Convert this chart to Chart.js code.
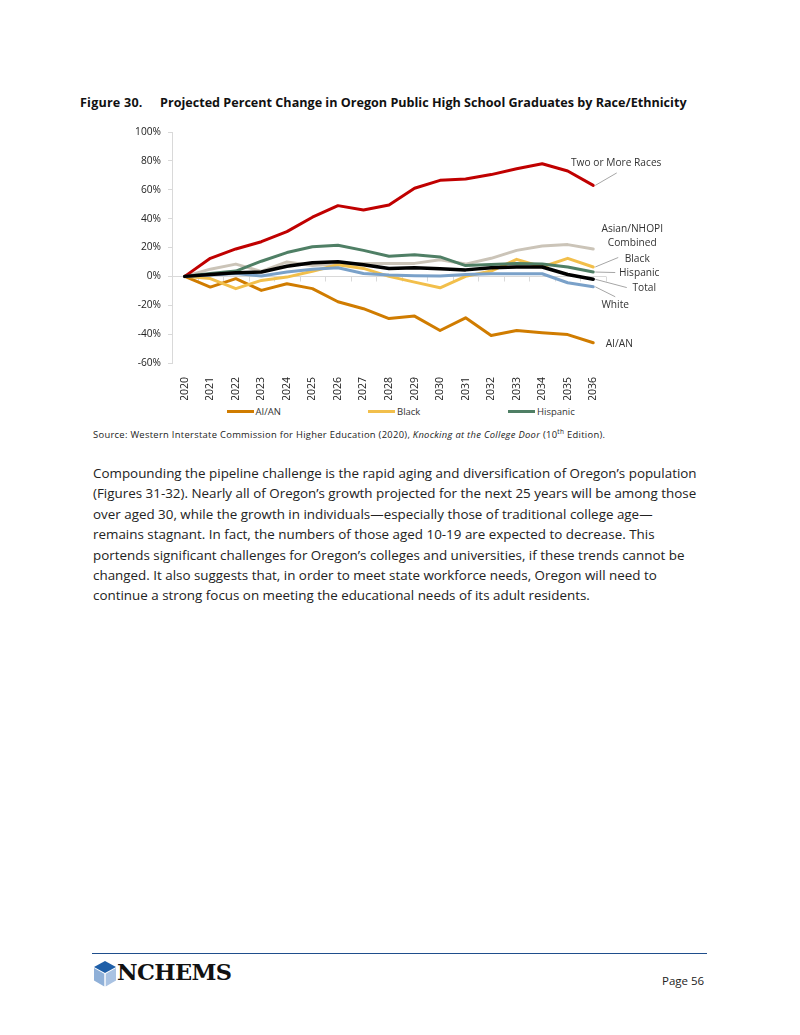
<!DOCTYPE html>
<html>
<head>
<meta charset="utf-8">
<script src="https://cdn.jsdelivr.net/npm/chart.js@4"></script>
<style>
  html,body{margin:0;padding:0;background:#fff;}
  body{width:800px;height:1035px;position:relative;overflow:hidden;font-family:"Open Sans","Noto Sans",sans-serif;color:#222;}
  .abs{position:absolute;white-space:nowrap;}
  #title{left:80px;top:94px;font-weight:bold;font-size:12.6px;color:#111;}
  #title .num{display:inline-block;width:80px;letter-spacing:0.2px;}
  #chartWrap{position:absolute;left:0;top:112px;width:800px;height:288px;}
  #legend{left:0;top:404px;width:800px;height:16px;font-size:9.5px;color:#333;}
  .lg{position:absolute;top:0;height:16px;line-height:16px;}
  .lg i{display:inline-block;width:27px;height:3px;vertical-align:middle;margin-right:2px;margin-top:-2px;}
  #source{left:93px;top:427px;font-size:9.4px;letter-spacing:0.3px;color:#222;}
  #source sup{font-size:6.5px;}
  #body{left:93px;top:463px;font-size:13.4px;line-height:20.4px;color:#222;}
  #rule{left:92px;top:953px;width:615px;height:0;border-top:1.3px solid #1f4e8c;}
  #logo{left:93px;top:960px;height:28px;}
  #logotext{left:117px;top:959px;font-family:"DejaVu Serif","Liberation Serif",serif;font-weight:bold;font-size:22.5px;letter-spacing:-0.6px;color:#111;}
  #page{left:662px;top:973px;font-size:11.5px;color:#222;}
</style>
</head>
<body>
<div id="title" class="abs"><span class="num">Figure 30.</span>Projected Percent Change in Oregon Public High School Graduates by Race/Ethnicity</div>
<div id="chartWrap"><canvas id="c" width="800" height="288"></canvas></div>
<div id="legend" class="abs"></div>
<div id="source" class="abs">Source: Western Interstate Commission for Higher Education (2020), <i>Knocking at the College Door</i> (10<sup>th</sup> Edition).</div>
<div id="body" class="abs">Compounding the pipeline challenge is the rapid aging and diversification of Oregon’s population<br>(Figures 31-32). Nearly all of Oregon’s growth projected for the next 25 years will be among those<br>over aged 30, while the growth in individuals—especially those of traditional college age—<br>remains stagnant. In fact, the numbers of those aged 10-19 are expected to decrease. This<br>portends significant challenges for Oregon’s colleges and universities, if these trends cannot be<br>changed. It also suggests that, in order to meet state workforce needs, Oregon will need to<br>continue a strong focus on meeting the educational needs of its adult residents.</div>
<div id="rule" class="abs"></div>
<svg id="logo" class="abs" width="24" height="28" viewBox="0 0 24 28">
  <polygon points="12,1 23,7 12,13 1,7" fill="#1f5fa8"/>
  <polygon points="1,8 11.3,13.8 11.3,26.5 1,20.5" fill="#8fb0d8"/>
  <polygon points="12.7,13.8 23,8 23,20.5 12.7,26.5" fill="#a9c2e2"/>
</svg>
<div id="logotext" class="abs">NCHEMS</div>
<div id="page" class="abs">Page 56</div>

<script>
const years = ["2020","2021","2022","2023","2024","2025","2026","2027","2028","2029","2030","2031","2032","2033","2034","2035","2036"];
const aian      = [0,-7.4,-1.6,-9.7,-5.1,-8.5,-17.6,-22.4,-29.2,-27.5,-37.5,-28.7,-41,-37.5,-39,-40.3,-46];
const black     = [0,-1.5,-8.5,-2.8,-0.5,3.5,8,5.5,0,-4,-7.9,0,3.7,11.8,6.5,12.5,6.5];
const hispanic  = [0,2,3.7,10.5,16.5,20.5,21.5,18,14,15,13.5,7.5,8.3,9,8.5,6.5,3];
const asian     = [0,5,8.5,3.5,10,7.5,8.5,9,9,9,11.5,8.5,12.5,18,21,22,19];
const twoOrMore = [0,12.5,19,24,31,41,49,46,49.5,61,66.5,67.5,70.5,74.5,78,73,63];
const white     = [0,1,2,0.2,3,5,6,2,1,0.5,0.3,1.3,1.8,1.8,1.8,-4.4,-7.2];
const total     = [0,1.3,2.5,3,7,9.5,10.2,8,5.5,6,5.3,4.5,6,6.5,6.5,1.3,-2];
const yTicks = [-60,-40,-20,0,20,40,60,80,100];

const FONT = '"Open Sans", "Noto Sans", sans-serif';

const series = [
  {label:"AI/AN", data:aian, color:"#d07c00", width:3, order:6, legend:true,
   tag:{lines:["AI/AN"], dx:26, dy:1}},
  {label:"Black", data:black, color:"#f2bf4b", width:3, order:4, legend:true,
   tag:{lines:["Black"], dx:44, dy:-8, leader:[25,-9.5]}},
  {label:"Hispanic", data:hispanic, color:"#4f7f65", width:3, order:3, legend:true,
   tag:{lines:["Hispanic"], dx:46, dy:1.5, leader:[22,0.5]}},
  {label:"Asian/NHOPI Combined", data:asian, color:"#cbc4b8", width:3, order:5, legend:false,
   tag:{lines:["Asian/NHOPI","Combined"], dx:39, dy:-20}},
  {label:"Two or More Races", data:twoOrMore, color:"#c00000", width:3, order:2, legend:false,
   tag:{lines:["Two or More Races"], dx:23, dy:-22, leader:[23.5,-12.5]}},
  {label:"White", data:white, color:"#7aa1c9", width:3, order:1, legend:false,
   tag:{lines:["White"], dx:22, dy:18.5, leader:[22,10]}},
  {label:"Total", data:total, color:"#000000", width:3.5, order:0, legend:false,
   tag:{lines:["Total"], dx:51, dy:8.5, leader:[33.5,8.3]}}
];

// HTML legend (only first three series shown, as in reference)
const legendEl = document.getElementById('legend');
const legendStarts = [226.5, 368, 508];
series.filter(s=>s.legend).forEach((s,i)=>{
  const d = document.createElement('div');
  d.className='lg'; d.style.left = legendStarts[i]+'px';
  d.innerHTML = '<i style="background:'+s.color+'"></i>'+s.label;
  legendEl.appendChild(d);
});

const zeroAxis = {
  id:'zeroAxis',
  beforeDatasetsDraw(chart){
    const {ctx, chartArea, scales:{x,y}} = chart;
    const y0 = Math.round(y.getPixelForValue(0))+0.5;
    ctx.save();
    ctx.strokeStyle='#d9d9d9'; ctx.lineWidth=1;
    ctx.beginPath();
    ctx.moveTo(chartArea.left, y0); ctx.lineTo(chartArea.right, y0);
    const half = (x.getPixelForValue(1)-x.getPixelForValue(0))/2;
    for(let i=0;i<years.length;i++){
      const px = Math.round(x.getPixelForValue(i)+half)+0.5;
      ctx.moveTo(px, y0); ctx.lineTo(px, y0+5);
    }
    ctx.stroke();
    ctx.restore();
  }
};

const endTags = {
  id:'endTags',
  afterDatasetsDraw(chart){
    const {ctx, scales:{x,y}} = chart;
    ctx.save();
    ctx.font = '10.2px ' + FONT;
    ctx.fillStyle = '#333';
    ctx.textAlign='center'; ctx.textBaseline='middle';
    series.forEach(s=>{
      const last = s.data.length-1;
      const ex = x.getPixelForValue(last), ey = y.getPixelForValue(s.data[last]);
      const t = s.tag;
      if(t.leader){
        ctx.strokeStyle='#a6a6a6'; ctx.lineWidth=1;
        ctx.beginPath(); ctx.moveTo(ex+2, ey); ctx.lineTo(ex+t.leader[0], ey+t.leader[1]); ctx.stroke();
      }
      t.lines.forEach((ln,k)=>{
        ctx.fillText(ln, ex+t.dx, ey+t.dy+k*14);
      });
    });
    ctx.restore();
  }
};

new Chart(document.getElementById('c'), {
  type:'line',
  data:{
    labels: years,
    datasets: series.map(s=>({
      label:s.label, data:s.data, borderColor:s.color, backgroundColor:s.color,
      borderWidth:s.width, pointRadius:0, tension:0, order:s.order,
      borderJoinStyle:'round', borderCapStyle:'round', fill:false
    }))
  },
  options:{
    responsive:false, animation:false, devicePixelRatio:1,
    layout:{padding:{left:0, right:194, top:20, bottom:0}},
    plugins:{legend:{display:false}, tooltip:{enabled:false}},
    scales:{
      x:{
        type:'category', offset:true,
        grid:{display:false},
        border:{display:false},
        ticks:{minRotation:90, maxRotation:90, padding:6, color:'#222',
               font:{family:FONT, size:10.5}},
        afterFit(sc){ sc.height = 37; }
      },
      y:{
        min:-60, max:100,
        afterBuildTicks(sc){ sc.ticks = yTicks.map(v=>({value:v})); },
        grid:{drawOnChartArea:false, drawTicks:true, tickLength:4, color:'#d9d9d9'},
        border:{display:true, color:'#d9d9d9', width:1},
        ticks:{padding:7, color:'#222', callback:v=>v+'%',
               font:{family:FONT, size:10.2}},
        afterFit(sc){ sc.width = 172; }
      }
    }
  },
  plugins:[zeroAxis, endTags]
});
</script>
</body>
</html>
